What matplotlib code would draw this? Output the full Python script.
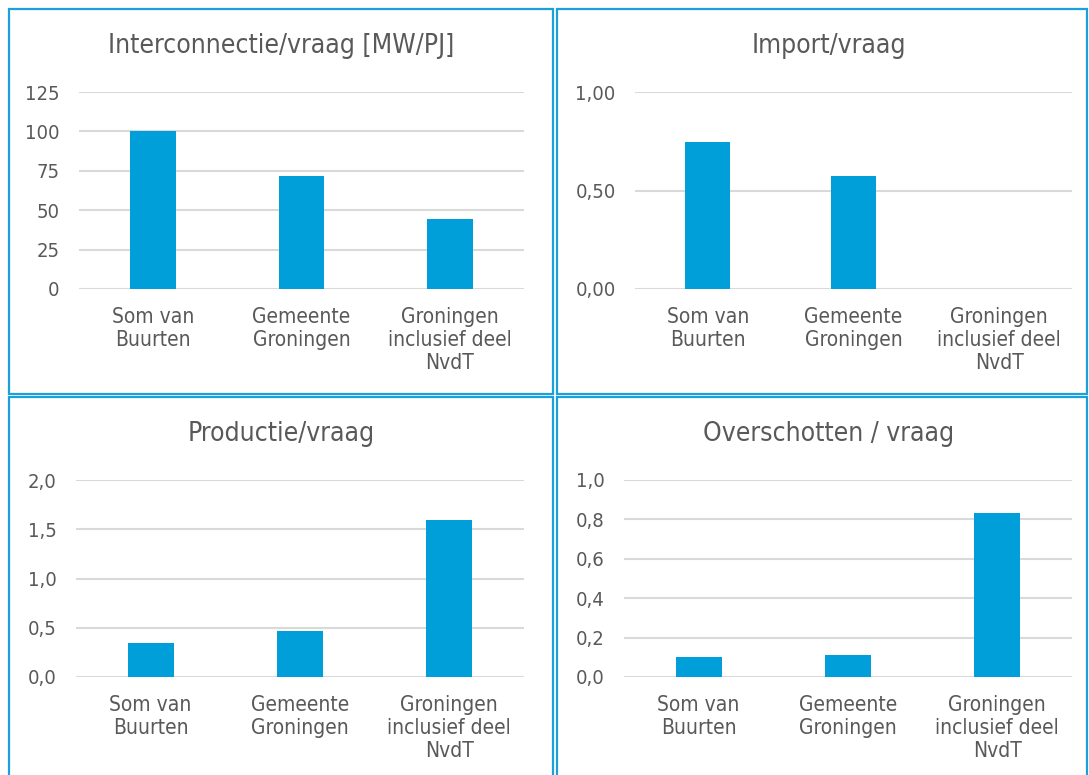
import matplotlib
matplotlib.use("Agg")
import matplotlib.pyplot as plt
from matplotlib.patches import Rectangle
from matplotlib.ticker import FuncFormatter, MultipleLocator

categories = ["Som van\nBuurten", "Gemeente\nGroningen", "Groningen\ninclusief deel\nNvdT"]
interconnectie = [100.0, 72.0, 44.5]
import_vraag = [0.745, 0.573, 0.0]
productie = [0.35, 0.47, 1.59]
overschotten = [0.103, 0.113, 0.831]

titles = ["Interconnectie/vraag [MW/PJ]", "Import/vraag", "Productie/vraag", "Overschotten / vraag"]

W, H = 1089, 775
BAR = "#009FDA"
BORDER = "#1BA0DB"
TXT = "#595959"
GRID = "#D9D9D9"
FONT = dict(family="DejaVu Sans", stretch="condensed")

fig = plt.figure(figsize=(W / 100, H / 100), dpi=100)
fig.patch.set_facecolor("white")

def px_axes(x0, x1, y0, y1):
    return fig.add_axes([x0 / W, 1 - y1 / H, (x1 - x0) / W, (y1 - y0) / H])

def border(x0, x1, y0, y1):
    fig.patches.append(Rectangle((x0 / W, 1 - y1 / H), (x1 - x0) / W, (y1 - y0) / H,
                                 transform=fig.transFigure, fill=False,
                                 edgecolor=BORDER, linewidth=1.6))

panels = [
    (interconnectie, 125, 25, lambda v, p: f"{v:.0f}", (79, 524, 92, 289), (9, 553, 9, 394), (281, 53)),
    (import_vraag, 1.0, 0.5, lambda v, p: f"{v:.2f}".replace(".", ","), (635, 1072, 92, 289), (557, 1087, 9, 394), (829, 53)),
    (productie, 2.0, 0.5, lambda v, p: f"{v:.1f}".replace(".", ","), (76, 524, 480, 677), (9, 553, 397, 790), (281, 441)),
    (overschotten, 1.0, 0.2, lambda v, p: f"{v:.1f}".replace(".", ","), (624, 1072, 480, 677), (557, 1087, 397, 790), (829, 441)),
]

for (data, ymax, step, fmt, box, bbox, tpos), title in zip(panels, titles):
    border(*bbox)
    ax = px_axes(*box)
    x = range(len(categories))
    ax.bar(x, data, width=0.31, color=BAR, zorder=3)
    ax.set_xlim(-0.5, len(categories) - 0.5)
    ax.set_ylim(0, ymax)
    ax.yaxis.set_major_locator(MultipleLocator(step))
    ax.yaxis.set_major_formatter(FuncFormatter(fmt))
    ax.grid(axis="y", color=GRID, linewidth=1.5, zorder=0)
    ax.set_axisbelow(True)
    for s in ax.spines.values():
        s.set_visible(False)
    ax.set_xticks(list(x))
    ax.set_xticklabels(categories, color=TXT, fontsize=15, linespacing=1.2, **FONT)
    ax.tick_params(axis="both", length=0)
    ax.tick_params(axis="x", pad=13)
    ax.tick_params(axis="y", pad=14)
    for lab in ax.get_yticklabels():
        lab.set_color(TXT)
        lab.set_fontsize(14.5)
        lab.set_family("DejaVu Sans")
        lab.set_stretch("condensed")
    fig.text(tpos[0] / W, 1 - tpos[1] / H, title, ha="center", va="baseline",
             color=TXT, fontsize=19, **FONT)

fig.savefig("out.png", dpi=100, facecolor="white")
